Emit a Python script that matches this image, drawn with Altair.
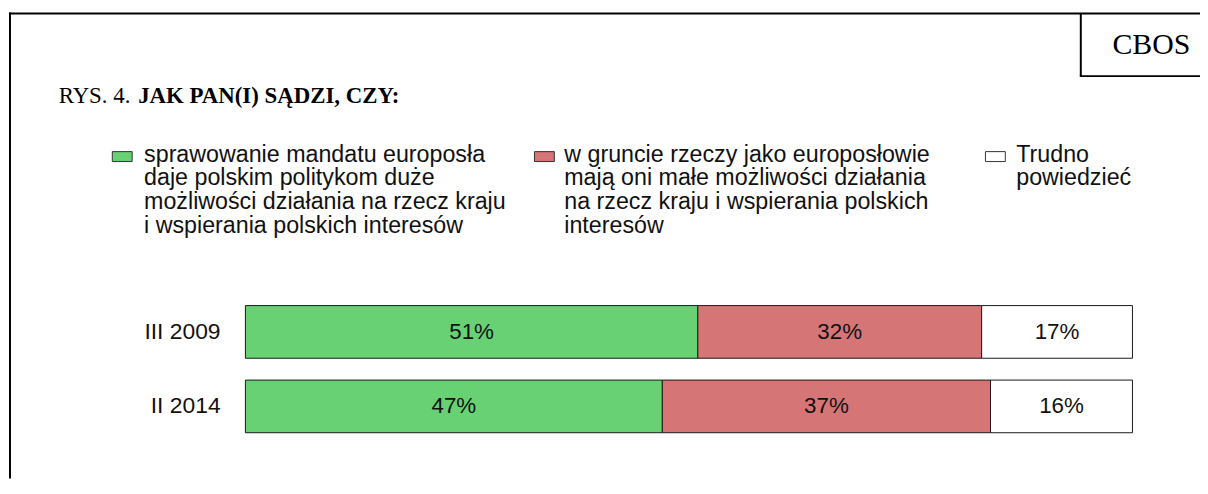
import altair as alt
import pandas as pd

# ---- data ----
periods = ["III 2009", "II 2014"]
duze = [51, 47]
male = [32, 37]
trudno = [17, 16]
categories = ["duze", "male", "trudno"]
cat_colors = ["#67D174", "#D57575", "#FFFFFF"]
legend_labels = [
    "sprawowanie mandatu europosła\ndaje polskim politykom duże\nmożliwości działania na rzecz kraju\ni wspierania polskich interesów",
    "w gruncie rzeczy jako europosłowie\nmają oni małe możliwości działania\nna rzecz kraju i wspierania polskich\ninteresów",
    "Trudno\npowiedzieć",
]
title_prefix = "RYS. 4."
title_main = "JAK PAN(I) SĄDZI, CZY:"
logo = "CBOS"

# ---- table for stacked bars ----
rows = []
for i, p in enumerate(periods):
    vals = [duze[i], male[i], trudno[i]]
    start = 0
    for c, v in zip(categories, vals):
        rows.append({"period": p, "cat": c, "value": v, "start": start,
                     "end": start + v, "mid": start + v / 2, "label": f"{v}%"})
        start += v
df = pd.DataFrame(rows)

SANS = "Liberation Sans"
SERIF = "Liberation Serif"

xscale = alt.Scale(domain=[0, 100], range=[239, 1132])
yscale = alt.Scale(domain=periods, range=[286.75, 437.25], paddingInner=0.2933, paddingOuter=0.15)

bars = alt.Chart(df).mark_bar(stroke="#1a1a1a", strokeWidth=1).encode(
    x=alt.X("start:Q", scale=xscale, axis=None),
    x2="end:Q",
    y=alt.Y("period:N", scale=yscale, axis=None, sort=periods),
    color=alt.Color("cat:N", scale=alt.Scale(domain=categories, range=cat_colors), legend=None),
)

values_text = alt.Chart(df).mark_text(font=SANS, fontSize=22.5, color="#111111", baseline="middle").encode(
    x=alt.X("mid:Q", scale=xscale, axis=None),
    y=alt.Y("period:N", scale=yscale, axis=None, sort=periods),
    text="label:N",
)

period_df = pd.DataFrame({"period": periods})
period_text = alt.Chart(period_df).mark_text(font=SANS, fontSize=23, color="#111111", align="right", baseline="middle").encode(
    x=alt.value(214),
    y=alt.Y("period:N", scale=yscale, axis=None, sort=periods),
    text="period:N",
)

one = pd.DataFrame({"a": [0]})
layers = [bars, values_text, period_text]

# legend (layout constants)
legend_sq_x = [105, 530, 984]
legend_txt_x = [137, 560, 1015]
for i in range(3):
    layers.append(alt.Chart(one).mark_rect(fill=cat_colors[i], stroke="#333333", strokeWidth=1).encode(
        x=alt.value(legend_sq_x[i]), x2=alt.value(legend_sq_x[i] + 20),
        y=alt.value(143), y2=alt.value(153)))
    layers.append(alt.Chart(one).mark_text(font=SANS, fontSize=23.4, lineHeight=24, lineBreak="\n",
                                           align="left", baseline="alphabetic", color="#111111").encode(
        x=alt.value(legend_txt_x[i]), y=alt.value(153), text=alt.value(legend_labels[i])))

# title
layers.append(alt.Chart(one).mark_text(font=SERIF, fontSize=23, align="left", baseline="alphabetic", color="black").encode(
    x=alt.value(51), y=alt.value(94), text=alt.value(title_prefix)))
layers.append(alt.Chart(one).mark_text(font=SERIF, fontSize=23, fontWeight="bold", align="left", baseline="alphabetic", color="black").encode(
    x=alt.value(131), y=alt.value(94), text=alt.value(title_main)))

# CBOS
layers.append(alt.Chart(one).mark_text(font=SERIF, fontSize=30, align="center", baseline="alphabetic", color="black").encode(
    x=alt.value(1151), y=alt.value(45), text=alt.value(logo)))

# frame lines
def rule(x1, x2, y1, y2, w=2):
    return alt.Chart(one).mark_rule(color="black", strokeWidth=w).encode(
        x=alt.value(x1), x2=alt.value(x2), y=alt.value(y1), y2=alt.value(y2))

layers += [
    rule(1, 1200, 4, 4),
    rule(2, 2, 3, 472),
    rule(1080, 1080, 4, 67),
    rule(1079, 1200, 67, 67),
]

chart = alt.layer(*layers).properties(
    width=1200, height=472,
    autosize=alt.AutoSizeParams(type="none"),
    padding=0,
    background="white",
).configure_view(stroke=None)

chart.save("out.html", embed_options={"renderer": "svg", "actions": False})
